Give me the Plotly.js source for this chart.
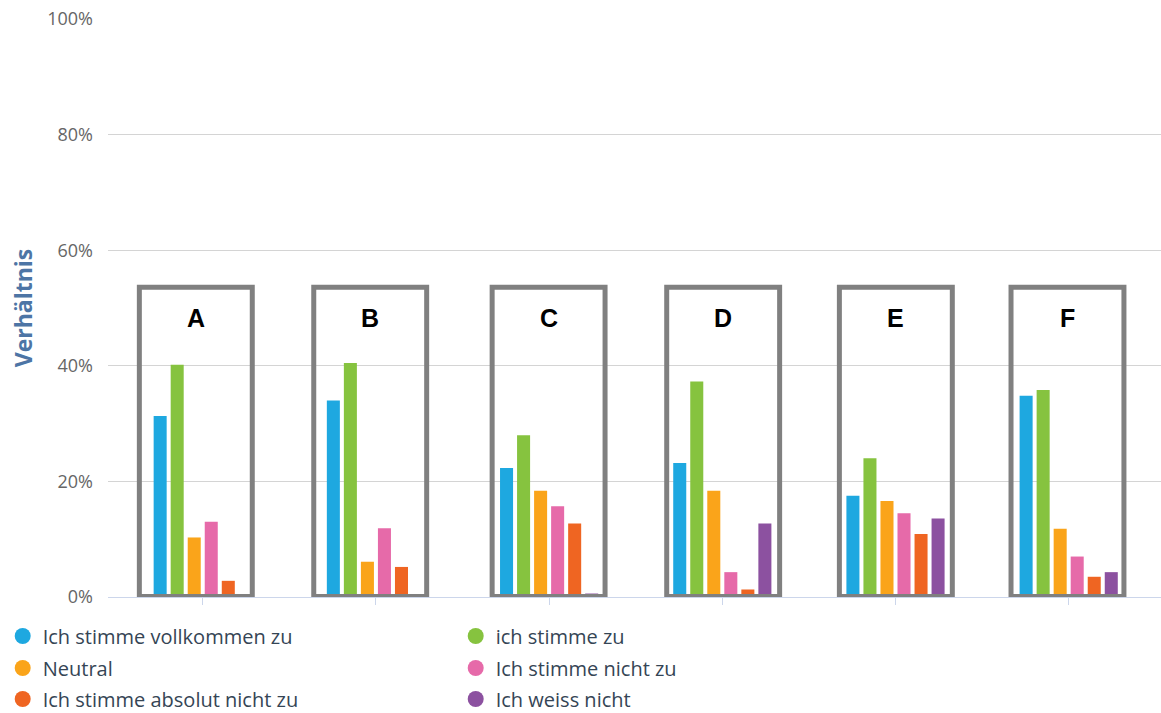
<!DOCTYPE html>
<html>
<head>
<meta charset="utf-8">
<script src="https://cdn.plot.ly/plotly-3.0.1.min.js"></script>
<style>
  html, body { margin: 0; padding: 0; background: #ffffff; }
  #chart { width: 1161px; height: 713px; }
</style>
</head>
<body>
<div id="chart"></div>
<script>
// ---- data ----
const categories = ["A", "B", "C", "D", "E", "F"];
const seriesNames = [
  "Ich stimme vollkommen zu",
  "ich stimme zu",
  "Neutral",
  "Ich stimme nicht zu",
  "Ich stimme absolut nicht zu",
  "Ich weiss nicht"
];
const vollkommenZu   = [31.3, 34.0, 22.3, 23.2, 17.5, 34.8];
const stimmeZu       = [40.2, 40.5, 28.0, 37.3, 24.0, 35.8];
const neutral        = [10.3,  6.1, 18.4, 18.4, 16.6, 11.8];
const nichtZu        = [13.0, 11.9, 15.7,  4.3, 14.5,  7.0];
const absolutNichtZu = [ 2.8,  5.2, 12.7,  1.3, 10.9,  3.5];
const weissNicht     = [ 0.0,  0.0,  0.6, 12.7, 13.6,  4.3];
const yTickValues = [0, 20, 40, 60, 80, 100];

const seriesValues = [vollkommenZu, stimmeZu, neutral, nichtZu, absolutNichtZu, weissNicht];
const colors = ["#1ea8e0", "#86c33f", "#faa41a", "#e66aa9", "#ef6522", "#8c51a0"];
const legendIds = ["legend", "legend", "legend2", "legend2", "legend3", "legend3"];

const xIdx = categories.map((c, i) => i);

const traces = [];
seriesValues.forEach((vals, s) => {
  traces.push({
    type: "bar",
    x: xIdx,
    y: vals,
    name: seriesNames[s],
    marker: { color: colors[s], line: { width: 0 } },
    showlegend: false,
    hoverinfo: "name+y"
  });
});
// legend entries with round markers
seriesValues.forEach((vals, s) => {
  traces.push({
    type: "scatter",
    mode: "markers",
    x: [null],
    y: [null],
    name: seriesNames[s],
    legend: legendIds[s],
    marker: { color: colors[s], size: 16, symbol: "circle" },
    showlegend: true,
    hoverinfo: "skip"
  });
});

// highlight boxes and letters (decoration layer)
const boxHalf = 0.326, boxTop = 53.6;
const boxShift = [-0.04, -0.033, -0.003, 0.005, 0.002, -0.007];
const shapes = categories.map((c, i) => ({
  type: "rect",
  xref: "x", yref: "y",
  x0: i + boxShift[i] - boxHalf, x1: i + boxShift[i] + boxHalf,
  y0: 0.1, y1: boxTop,
  line: { color: "#808080", width: 5 },
  fillcolor: "rgba(0,0,0,0)",
  layer: "above"
}));
const annotations = categories.map((c, i) => ({
  xref: "x", yref: "y",
  x: i + boxShift[i],
  y: 48.3,
  text: "<b>" + c + "</b>",
  showarrow: false,
  font: { family: "Liberation Sans, Arial, sans-serif", size: 25, color: "#000000" },
  xanchor: "center", yanchor: "middle"
}));

const legendFont = { family: "Open Sans, sans-serif", size: 20, color: "#354555" };
function rowLegend(ypaper) {
  return {
    orientation: "h",
    x: -0.1, xanchor: "left",
    y: ypaper, yanchor: "middle",
    entrywidth: 408, entrywidthmode: "pixels",
    font: legendFont,
    bgcolor: "rgba(0,0,0,0)",
    itemclick: false, itemdoubleclick: false,
    traceorder: "normal"
  };
}

const layout = {
  width: 1161,
  height: 713,
  margin: { l: 108, r: 0, t: 19, b: 116, autoexpand: false },
  paper_bgcolor: "#ffffff",
  plot_bgcolor: "#ffffff",
  barmode: "group",
  bargap: 0.41,
  bargroupgap: 0.235,
  showlegend: true,
  xaxis: {
    type: "linear",
    range: [-0.547, 5.533],
    tickvals: xIdx,
    ticktext: categories,
    showticklabels: false,
    ticks: "outside",
    ticklen: 7,
    tickcolor: "#ccd6eb",
    tickwidth: 1,
    showgrid: false,
    zeroline: false,
    showline: true,
    linecolor: "#ccd6eb",
    linewidth: 1,
    fixedrange: true
  },
  yaxis: {
    range: [0, 100],
    tickvals: yTickValues,
    ticktext: yTickValues.map(v => v + "%"),
    tickfont: { family: "Open Sans, sans-serif", size: 18, color: "#666666" },
    ticklabelstandoff: 14,
    showgrid: true,
    gridcolor: "#d4d4d4",
    gridwidth: 1,
    zeroline: false,
    showline: false,
    ticks: "",
    fixedrange: true,
    title: {
      text: "<b>Verhältnis</b>",
      font: { family: "Open Sans, sans-serif", size: 23, color: "#4d75a5" },
      standoff: 8
    }
  },
  legend: rowLegend(-0.0675),
  legend2: rowLegend(-0.1228),
  legend3: rowLegend(-0.1765),
  shapes: shapes,
  annotations: annotations
};

Plotly.newPlot("chart", traces, layout, { displayModeBar: false, responsive: false });
</script>
</body>
</html>
